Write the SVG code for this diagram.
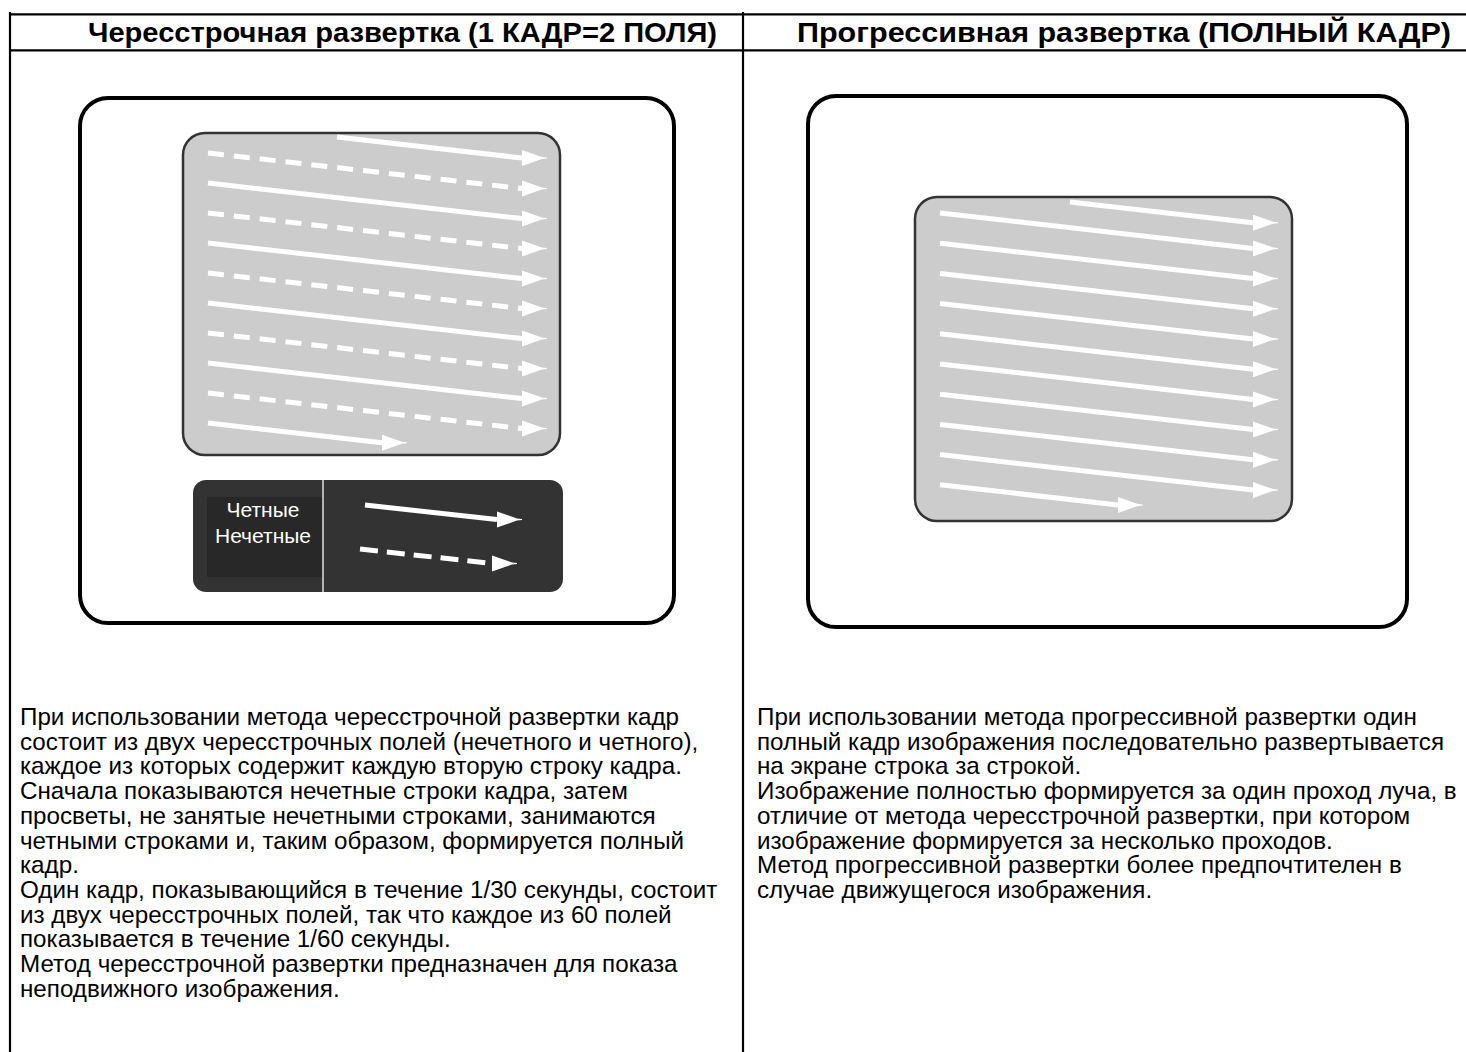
<svg xmlns="http://www.w3.org/2000/svg" width="1466" height="1052" viewBox="0 0 1466 1052">
<style>
.grid{stroke:#000;stroke-width:2.2;fill:none}
.hdr{font-family:"Liberation Sans",Arial,sans-serif;font-weight:bold;font-size:28px;fill:#000}
.body{font-family:"Liberation Sans",Arial,sans-serif;font-size:24.2px;fill:#000}
.frame{fill:#fff;stroke:#000;stroke-width:4}
.scr{fill:#cccccc;stroke:#333;stroke-width:2.5}
.ln{fill:none;stroke:#fff;stroke-width:5;marker-end:url(#ah)}
.dl{fill:none;stroke:#fff;stroke-width:5;stroke-dasharray:16 10;marker-end:url(#ah)}
.lg{font-family:"Liberation Sans",Arial,sans-serif;font-size:21px;fill:#fff;text-anchor:middle}
</style>
<defs>
<marker id="ah" markerUnits="userSpaceOnUse" markerWidth="26" markerHeight="18" viewBox="0 0 26 18" refX="0" refY="9" orient="0">
<path d="M0,1 L20,8 L25,8.5 L25,9.5 L20,10 L0,17 Z" fill="#fff"/>
</marker>
</defs>
<rect width="1466" height="1052" fill="#fff"/>
<g id="table">
<line class="grid" x1="9" y1="14.3" x2="1466" y2="14.3"/>
<line class="grid" x1="9" y1="50.3" x2="1466" y2="50.3"/>
<line class="grid" x1="10" y1="12" x2="10" y2="1052"/>
<line class="grid" x1="743" y1="12" x2="743" y2="1052" stroke-width="2.5"/>
</g>
<g id="headers">
<text class="hdr" x="88" y="42" textLength="629" lengthAdjust="spacingAndGlyphs">Чересстрочная развертка (1 КАДР=2 ПОЛЯ)</text>
<text class="hdr" x="797" y="42" textLength="654" lengthAdjust="spacingAndGlyphs">Прогрессивная развертка (ПОЛНЫЙ КАДР)</text>
</g>
<g id="interlaced">
<rect class="frame" x="80" y="98" width="594" height="525" rx="28"/>
<rect class="scr" x="183" y="133" width="377" height="322" rx="22"/>
<path class="ln" d="M337,137 L522,158"/>
<path class="dl" d="M208,153 L522,188.5"/>
<path class="ln" d="M208,183 L522,218.5"/>
<path class="dl" d="M208,213 L522,248.5"/>
<path class="ln" d="M208,243 L522,278.5"/>
<path class="dl" d="M208,273 L522,308.5"/>
<path class="ln" d="M208,303 L522,338.5"/>
<path class="dl" d="M208,333 L522,368.5"/>
<path class="ln" d="M208,363 L522,398.5"/>
<path class="dl" d="M208,393 L522,428.5"/>
<path class="ln" d="M208,423 L382,442.7"/>
</g>
<g id="legend">
<rect x="193" y="480" width="370" height="112" rx="13" fill="#333"/>
<rect x="207" y="497" width="115" height="80" fill="#282828"/>
<line x1="323" y1="480" x2="323" y2="592" stroke="#e0e0e0" stroke-width="1.5"/>
<text class="lg" x="263" y="517">Четные</text>
<text class="lg" x="263" y="543">Нечетные</text>
<path class="ln" d="M365,505 L497,519.5"/>
<path class="ln" d="M360,549 L492,563.5" stroke-dasharray="18 9"/>
</g>
<g id="progressive">
<rect class="frame" x="808" y="96" width="599" height="531" rx="28"/>
<rect class="scr" x="915" y="197" width="377" height="324" rx="22"/>
<path class="ln" d="M1070,202 L1253,222.7"/>
<path class="ln" d="M940,213 L1253,248.4"/>
<path class="ln" d="M940,243.2 L1253,278.6"/>
<path class="ln" d="M940,273.4 L1253,308.8"/>
<path class="ln" d="M940,303.6 L1253,339"/>
<path class="ln" d="M940,333.8 L1253,369.2"/>
<path class="ln" d="M940,364 L1253,399.4"/>
<path class="ln" d="M940,394.2 L1253,429.6"/>
<path class="ln" d="M940,424.4 L1253,459.8"/>
<path class="ln" d="M940,454.6 L1253,490"/>
<path class="ln" d="M940,484.8 L1118,504.9"/>
</g>
<g id="text-left">
<text class="body" x="20" y="725">При использовании метода чересстрочной развертки кадр</text>
<text class="body" x="20" y="749.7">состоит из двух чересстрочных полей (нечетного и четного),</text>
<text class="body" x="20" y="774.4">каждое из которых содержит каждую вторую строку кадра.</text>
<text class="body" x="20" y="799.1">Сначала показываются нечетные строки кадра, затем</text>
<text class="body" x="20" y="823.8">просветы, не занятые нечетными строками, занимаются</text>
<text class="body" x="20" y="848.5">четными строками и, таким образом, формируется полный</text>
<text class="body" x="20" y="873.2">кадр.</text>
<text class="body" x="20" y="897.9">Один кадр, показывающийся в течение 1/30 секунды, состоит</text>
<text class="body" x="20" y="922.6">из двух чересстрочных полей, так что каждое из 60 полей</text>
<text class="body" x="20" y="947.3">показывается в течение 1/60 секунды.</text>
<text class="body" x="20" y="972">Метод чересстрочной развертки предназначен для показа</text>
<text class="body" x="20" y="996.7">неподвижного изображения.</text>
</g>
<g id="text-right">
<text class="body" x="757" y="725">При использовании метода прогрессивной развертки один</text>
<text class="body" x="757" y="749.7">полный кадр изображения последовательно развертывается</text>
<text class="body" x="757" y="774.4">на экране строка за строкой.</text>
<text class="body" x="757" y="799.1">Изображение полностью формируется за один проход луча, в</text>
<text class="body" x="757" y="823.8">отличие от метода чересстрочной развертки, при котором</text>
<text class="body" x="757" y="848.5">изображение формируется за несколько проходов.</text>
<text class="body" x="757" y="873.2">Метод прогрессивной развертки более предпочтителен в</text>
<text class="body" x="757" y="897.9">случае движущегося изображения.</text>
</g>
</svg>
